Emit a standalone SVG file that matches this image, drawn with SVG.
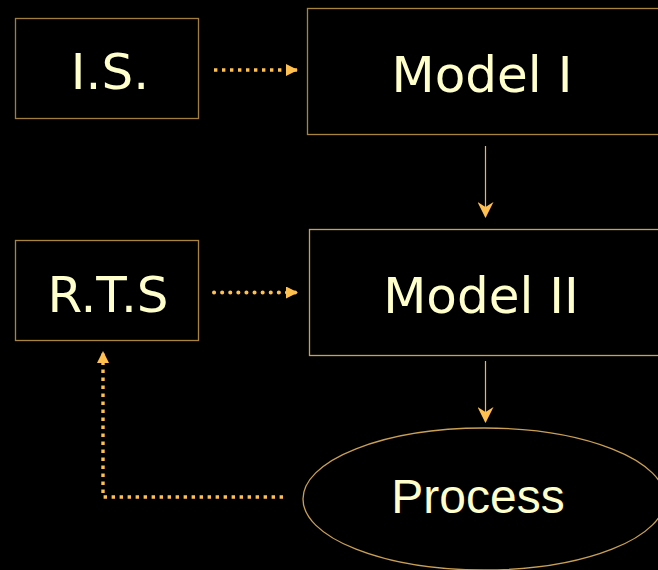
<svg xmlns="http://www.w3.org/2000/svg" width="658" height="570" viewBox="0 0 658 570">
<style>
.box{fill:#000;stroke:#C9A054;stroke-width:1.3}
.lbl{fill:#FFFFCC;font-family:"DejaVu Sans",Verdana,sans-serif;font-size:50px;text-anchor:middle}
.plbl{fill:#FFFFCC;font-family:"Liberation Sans",Arial,sans-serif;font-size:48px;text-anchor:middle}
.solid{stroke:#F0B450;stroke-width:1.2;fill:none}
.dot{stroke:#FFC050;stroke-width:3.4;fill:none;stroke-dasharray:3.4 4.6}
.rdot{stroke:#FFC050;stroke-width:4;fill:none;stroke-linecap:round;stroke-dasharray:0.1 8}
</style>
<defs>
<marker id="chev" viewBox="0 0 16 16" refX="15" refY="8" markerWidth="16" markerHeight="16" markerUnits="userSpaceOnUse" orient="auto">
<path d="M0,0 L16,8 L0,16 L5,8 Z" fill="#FFC050"/>
</marker>
<marker id="tri" viewBox="0 0 12 12" refX="11" refY="6" markerWidth="12" markerHeight="12" markerUnits="userSpaceOnUse" orient="auto">
<path d="M0,0 L12,6 L0,12 Z" fill="#FFC050"/>
</marker>
</defs>
<rect width="658" height="570" fill="#000"/>
<g id="connectors">
<line class="dot" x1="214" y1="70" x2="297" y2="70" marker-end="url(#tri)"/>
<line class="rdot" x1="214" y1="292.5" x2="297" y2="292.5" marker-end="url(#tri)"/>
<line class="solid" x1="485.5" y1="146" x2="485.5" y2="217" marker-end="url(#chev)"/>
<line class="solid" x1="485.5" y1="361" x2="485.5" y2="422" marker-end="url(#chev)"/>
<polyline class="dot" points="283,497 103,497 103,352" marker-end="url(#tri)"/>
</g>
<g id="is">
<rect class="box" x="15.5" y="18.5" width="183" height="100" style="stroke:#A07E40"/>
<text class="lbl" x="110" y="89">I.S.</text>
</g>
<g id="model1">
<rect class="box" x="307.5" y="8.5" width="360" height="126" style="stroke:#A8843F"/>
<text class="lbl" x="482" y="92">Model I</text>
</g>
<g id="rts">
<rect class="box" x="15.5" y="240.5" width="183" height="100" style="stroke:#A8843F"/>
<text class="lbl" x="108" y="312">R.T.S</text>
</g>
<g id="model2">
<rect class="box" x="309.5" y="229.5" width="360" height="126"/>
<text class="lbl" x="481" y="313">Model II</text>
</g>
<g id="process">
<ellipse class="box" cx="484" cy="499" rx="181" ry="71"/>
<text class="plbl" x="478" y="513">Process</text>
</g>
</svg>
